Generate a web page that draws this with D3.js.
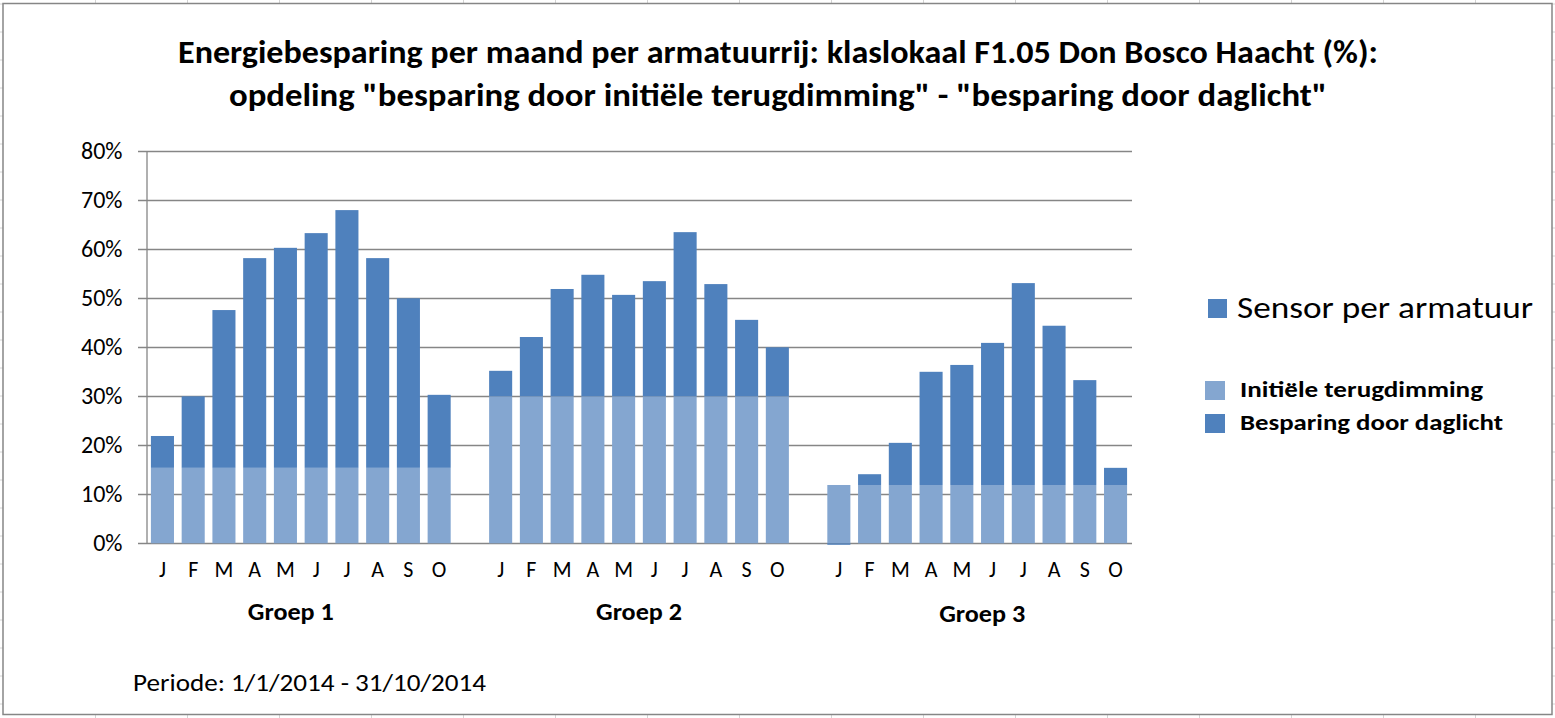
<!DOCTYPE html>
<html>
<head>
<meta charset="utf-8">
<script src="https://cdn.jsdelivr.net/npm/d3@7/dist/d3.min.js"></script>
<style>
  html, body { margin: 0; padding: 0; background: #fff; }
  svg { display: block; }
  text { font-family: Carlito, Calibri, Lato, "Open Sans", sans-serif; fill: #000; }
</style>
</head>
<body>
<svg id="chart" width="1555" height="718"></svg>
<script>
// ---- data ----
const titleLines = [
  "Energiebesparing per maand per armatuurrij: klaslokaal F1.05 Don Bosco Haacht (%):",
  "opdeling \"besparing door initiële terugdimming\" - \"besparing door daglicht\""
];
const months = ["J", "F", "M", "A", "M", "J", "J", "A", "S", "O"];
const groups = ["Groep 1", "Groep 2", "Groep 3"];
const seriesNames = ["Initiële terugdimming", "Besparing door daglicht"];
const legendTitle = "Sensor per armatuur";
const footnote = "Periode: 1/1/2014 - 31/10/2014";
const yTicks = [0, 10, 20, 30, 40, 50, 60, 70, 80];

// initial dimming (%) per group
const initieleG1 = [15.4, 15.4, 15.4, 15.4, 15.4, 15.4, 15.4, 15.4, 15.4, 15.4];
const initieleG2 = [30.0, 30.0, 30.0, 30.0, 30.0, 30.0, 30.0, 30.0, 30.0, 30.0];
const initieleG3 = [11.9, 11.9, 11.9, 11.9, 11.9, 11.9, 11.9, 11.9, 11.9, 11.9];
// daylight saving (%) per group
const daglichtG1 = [6.5, 14.6, 32.2, 42.8, 44.9, 47.9, 52.6, 42.8, 34.6, 14.9];
const daglichtG2 = [5.2, 12.1, 21.9, 24.8, 20.7, 23.5, 33.5, 22.9, 15.6, 10.0];
const daglichtG3 = [-0.3, 2.2, 8.6, 23.1, 24.5, 29.0, 41.2, 32.5, 21.4, 3.5];

const initiele = [initieleG1, initieleG2, initieleG3];
const daglicht = [daglichtG1, daglichtG2, daglichtG3];

// ---- build table ----
const rows = [];
const domain = [];
groups.forEach((g, gi) => {
  months.forEach((m, mi) => {
    const key = gi + "-" + mi;
    domain.push(key);
    rows.push({ key, group: gi, month: m, ini: initiele[gi][mi], dag: daglicht[gi][mi] });
  });
  if (gi < groups.length - 1) domain.push("gap" + gi);
});

// ---- styles ----
const colLight = "#84a6d0";
const colDark = "#4f81bd";
const gridCol = "#868686";

const svg = d3.select("#chart");

// spreadsheet gridlines behind the chart
const sheet = svg.append("g");
d3.range(0, 17).forEach(k => {
  const x = 95.5 + 92 * k;
  sheet.append("line").attr("x1", x).attr("x2", x).attr("y1", 0).attr("y2", 718)
    .attr("stroke", "#d4d4d4").attr("stroke-width", 1);
});
d3.range(0, 26).forEach(k => {
  const y = 4 + 28 * k;
  sheet.append("line").attr("x1", 0).attr("x2", 1555).attr("y1", y).attr("y2", y)
    .attr("stroke", "#d4d4d4").attr("stroke-width", 1);
});

// chart area
svg.append("rect").attr("x", 3).attr("y", 3.5).attr("width", 1549).attr("height", 711)
  .attr("fill", "#fff").attr("stroke", "#868686").attr("stroke-width", 1.5);

// title
titleLines.forEach((t, i) => {
  const widths = [1200, 1098];
  svg.append("text")
    .attr("x", 778).attr("y", i === 0 ? 63 : 106)
    .attr("text-anchor", "middle")
    .attr("font-size", 32).attr("font-weight", "bold")
    .attr("textLength", widths[i]).attr("lengthAdjust", "spacingAndGlyphs")
    .text(t);
});

// scales
const x = d3.scaleBand().domain(domain).range([146, 1132]).paddingInner(0.25).paddingOuter(0.16);
const y = d3.scaleLinear().domain([0, 80]).range([543.3, 151.3]);

// gridlines
const gridG = svg.append("g");
gridG.selectAll("line").data(yTicks).join("line")
  .attr("x1", 138).attr("x2", 1132)
  .attr("y1", d => Math.round(y(d)) + 0.5).attr("y2", d => Math.round(y(d)) + 0.5)
  .attr("stroke", gridCol).attr("stroke-width", 1.3);

// y axis
const yAxis = svg.append("g").attr("transform", "translate(146.5,0)")
  .call(d3.axisLeft(y).tickValues(yTicks).tickFormat(d => d + "%").tickSize(0).tickPadding(24));
yAxis.select(".domain").attr("stroke", gridCol).attr("stroke-width", 1.3);
yAxis.selectAll("text").attr("font-size", 24).attr("font-family", "Carlito, Calibri, Lato, sans-serif");

// stacked bars
const stack = d3.stack().keys(["ini", "dag"]).offset(d3.stackOffsetDiverging);
const stacked = stack(rows);
const colors = [colLight, colDark];
stacked.forEach((layer, li) => {
  svg.append("g").selectAll("rect").data(layer).join("rect")
    .attr("x", d => x(d.data.key))
    .attr("width", x.bandwidth())
    .attr("y", d => y(Math.max(d[0], d[1])))
    .attr("height", d => Math.abs(y(d[0]) - y(d[1])))
    .attr("fill", colors[li]);
});

// month labels
svg.append("g").selectAll("text").data(rows).join("text")
  .attr("x", d => x(d.key) + x.bandwidth() / 2)
  .attr("y", 577)
  .attr("text-anchor", "middle")
  .attr("font-size", 22)
  .text(d => d.month);

// group labels
const groupNudge = [-10, 0, 5];
groups.forEach((g, gi) => {
  const first = x(gi + "-0");
  const last = x(gi + "-" + (months.length - 1)) + x.bandwidth();
  svg.append("text")
    .attr("x", (first + last) / 2 + groupNudge[gi])
    .attr("y", gi === 2 ? 622 : 620)
    .attr("text-anchor", "middle")
    .attr("font-size", 24).attr("font-weight", "bold")
    .attr("textLength", 86).attr("lengthAdjust", "spacingAndGlyphs")
    .text(g);
});

// legend
svg.append("rect").attr("x", 1208).attr("y", 299).attr("width", 19).attr("height", 19).attr("fill", colDark);
svg.append("text").attr("x", 1237).attr("y", 318)
  .attr("font-size", 30)
  .attr("textLength", 296).attr("lengthAdjust", "spacingAndGlyphs")
  .text(legendTitle);

const legendY = [381, 414];
const legendW = [243, 263];
seriesNames.forEach((s, i) => {
  svg.append("rect").attr("x", 1205).attr("y", legendY[i]).attr("width", 20).attr("height", 19).attr("fill", colors[i]);
  svg.append("text").attr("x", 1240).attr("y", legendY[i] + 16)
    .attr("font-size", 23).attr("font-weight", "bold")
    .attr("textLength", legendW[i]).attr("lengthAdjust", "spacingAndGlyphs")
    .text(s);
});

// footnote
svg.append("text").attr("x", 133).attr("y", 691)
  .attr("font-size", 24)
  .attr("textLength", 353).attr("lengthAdjust", "spacingAndGlyphs")
  .text(footnote);
</script>
</body>
</html>
